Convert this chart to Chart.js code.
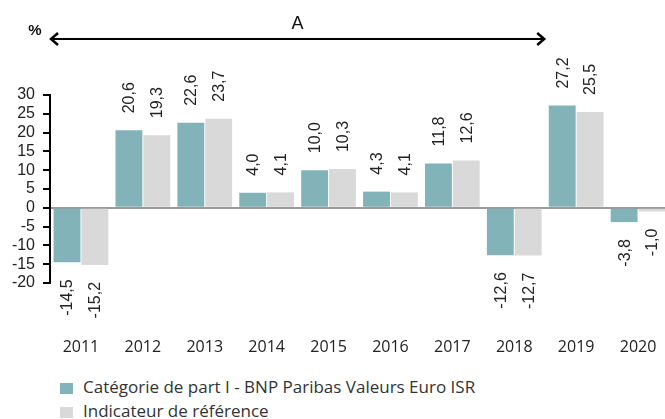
<!DOCTYPE html>
<html>
<head>
<meta charset="utf-8">
<script src="https://cdn.jsdelivr.net/npm/chart.js@4/dist/chart.umd.min.js"></script>
<style>
    body { margin: 0; overflow: hidden; background: #fff; }
    #wrap { position: relative; width: 670px; height: 419px; }
    #BarChart { position: absolute; left: 0; top: 0; }
    #legend { position: absolute; left: 60px; top: 376px; font-family: "Open Sans", sans-serif; font-size: 17px; color: #333; }
    .item { height: 24px; line-height: 22px; white-space: nowrap; }
    .box { display: inline-block; width: 13px; height: 11px; margin-right: 10px; vertical-align: -1px; }
</style>
</head>
<body>
<div id="wrap">
    <canvas id="BarChart" width="670" height="365"></canvas>
    <div id="legend"></div>
</div>
<script>
var years = ["2011", "2012", "2013", "2014", "2015", "2016", "2017", "2018", "2019", "2020"];
var fundValues = [-14.5, 20.6, 22.6, 4.0, 10.0, 4.3, 11.8, -12.6, 27.2, -3.8];
var indexValues = [-15.2, 19.3, 23.7, 4.1, 10.3, 4.1, 12.6, -12.7, 25.5, -1.0];
var seriesNames = ["Catégorie de part I - BNP Paribas Valeurs Euro ISR", "Indicateur de référence"];
var seriesColors = ["#82b3b9", "#d9d9d9"];
var yTicks = [-20, -15, -10, -5, 0, 5, 10, 15, 20, 25, 30];
var arrowLabel = "A";
var unitLabel = "%";
var arrowLastYear = "2018";

// value labels, rotated, above positive bars and under negative ones
var barLabels = {
    id: "barLabels",
    afterDatasetsDraw: function(chart) {
        var ctx = chart.ctx;
        ctx.save();
        ctx.font = "16px 'Liberation Sans', Arial, sans-serif";
        ctx.fillStyle = "#222";
        ctx.textBaseline = "middle";
        chart.data.datasets.forEach(function(ds, i) {
            var meta = chart.getDatasetMeta(i);
            meta.data.forEach(function(bar, j) {
                var v = ds.data[j];
                var txt = v.toFixed(1).replace(".", ",");
                ctx.save();
                if (v >= 0) {
                    ctx.translate(bar.x, bar.y - 17);
                    ctx.rotate(-Math.PI / 2);
                    ctx.textAlign = "left";
                } else {
                    ctx.translate(bar.x, bar.y + 17);
                    ctx.rotate(-Math.PI / 2);
                    ctx.textAlign = "right";
                }
                ctx.fillText(txt, 0, 1);
                ctx.restore();
            });
        });
        ctx.restore();
    }
};

// the double arrow over the top
var arrow = {
    id: "arrow",
    afterDraw: function(chart) {
        var ctx = chart.ctx;
        var x = chart.scales.x;
        var idx = years.indexOf(arrowLastYear);
        var step = x.getPixelForValue(1) - x.getPixelForValue(0);
        var x1 = chart.chartArea.left;
        var x2 = x.getPixelForValue(idx) + step / 2;
        var y = 39;
        ctx.save();
        ctx.strokeStyle = "#000";
        ctx.lineWidth = 2;
        ctx.beginPath();
        ctx.moveTo(x1 + 1, y);
        ctx.lineTo(x2 - 1, y);
        ctx.stroke();
        ctx.lineWidth = 2.5;
        ctx.beginPath();
        ctx.moveTo(x1 + 8, y - 6);
        ctx.lineTo(x1 + 1, y);
        ctx.lineTo(x1 + 8, y + 6);
        ctx.moveTo(x2 - 8, y - 6);
        ctx.lineTo(x2 - 1, y);
        ctx.lineTo(x2 - 8, y + 6);
        ctx.stroke();
        ctx.fillStyle = "#111";
        ctx.textAlign = "center";
        ctx.textBaseline = "middle";
        ctx.font = "18px 'Liberation Sans', Arial, sans-serif";
        ctx.fillText(arrowLabel, (x1 + x2) / 2, 24);
        ctx.font = "bold 15px 'Liberation Sans', Arial, sans-serif";
        ctx.fillText(unitLabel, x1 - 15, 31);
        ctx.restore();
    }
};

document.addEventListener("DOMContentLoaded", function() {
    var c = document.getElementById("BarChart");

    var data = {
        labels: years,
        datasets: [{
            label: seriesNames[0],
            data: fundValues,
            backgroundColor: seriesColors[0]
        },
        {
            label: seriesNames[1],
            data: indexValues,
            backgroundColor: seriesColors[1]
        }]
    };

    var bar = new Chart(c, {
        type: "bar",
        data: data,
        plugins: [barLabels, arrow],
        options: {
            responsive: false,
            animation: false,
            devicePixelRatio: 1,
            barPercentage: 0.965,
            categoryPercentage: 0.9,
            layout: { padding: { top: 95, right: 1, left: 0, bottom: 0 } },
            plugins: {
                legend: { display: false },
                tooltip: { enabled: false }
            },
            scales: {
                x: {
                    // long invisible ticks push the year labels below the value labels
                    grid: { display: true, drawOnChartArea: false, drawTicks: true, tickLength: 55, tickColor: "rgba(0,0,0,0)" },
                    border: { display: false },
                    ticks: {
                        padding: 0,
                        color: "#222",
                        maxRotation: 0,
                        autoSkip: false,
                        font: { family: "'Open Sans', sans-serif", size: 16 }
                    },
                    afterFit: function(scale) { scale.height = 82; }
                },
                y: {
                    min: yTicks[0],
                    max: yTicks[yTicks.length - 1],
                    afterBuildTicks: function(scale) {
                        scale.ticks = yTicks.map(function(v) { return { value: v }; });
                    },
                    grid: {
                        color: function(ctx) { return ctx.tick && ctx.tick.value === 0 ? "#9a9a9a" : "rgba(0,0,0,0)"; },
                        lineWidth: 2,
                        tickColor: "#000",
                        tickWidth: 2,
                        tickLength: 7
                    },
                    border: { display: true, color: "#000", width: 2 },
                    ticks: {
                        padding: 8,
                        autoSkip: false,
                        color: "#222",
                        font: { family: "'Liberation Sans', Arial, sans-serif", size: 16 }
                    },
                    afterFit: function(scale) { scale.width = 50; }
                }
            }
        }
    });

    var legend = document.getElementById("legend");
    for (var i = 0; i < seriesNames.length; i++) {
        var row = document.createElement("div");
        row.className = "item";
        var box = document.createElement("span");
        box.className = "box";
        box.style.background = seriesColors[i];
        row.appendChild(box);
        row.appendChild(document.createTextNode(seriesNames[i]));
        legend.appendChild(row);
    }
});
</script>
</body>
</html>
